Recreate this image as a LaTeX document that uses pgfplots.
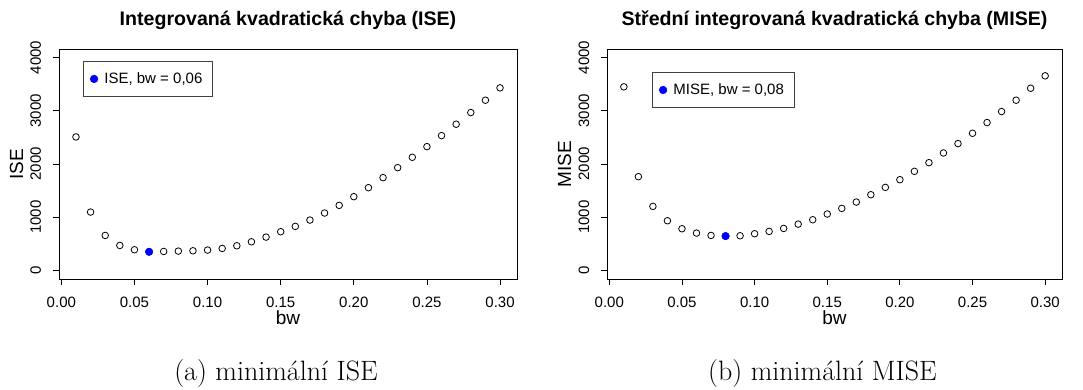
\documentclass[border=0pt]{standalone}
\usepackage{fontspec}
\usepackage{pgfplots}
\pgfplotsset{compat=1.18}
\newfontfamily\arial{Liberation Sans}

\pgfplotstableread{
bw ise
0.01 2508
0.02 1097
0.03 658
0.04 470
0.05 389
0.06 351
0.07 357
0.08 364
0.09 370
0.10 383
0.11 414
0.12 464
0.13 539
0.14 627
0.15 728
0.16 828
0.17 947
0.18 1079
0.19 1223
0.20 1386
0.21 1555
0.22 1744
0.23 1931
0.24 2126
0.25 2326
0.26 2533
0.27 2747
0.28 2966
0.29 3198
0.30 3430
}\isedata

\pgfplotstableread{
bw mise
0.01 3449
0.02 1762
0.03 1204
0.04 934
0.05 784
0.06 702
0.07 658
0.08 646
0.09 652
0.10 690
0.11 734
0.12 790
0.13 871
0.14 953
0.15 1060
0.16 1166
0.17 1285
0.18 1423
0.19 1561
0.20 1705
0.21 1862
0.22 2025
0.23 2207
0.24 2383
0.25 2577
0.26 2778
0.27 2985
0.28 3198
0.29 3423
0.30 3656
}\misedata

\pgfplotsset{
  rstyle/.style={
    scale only axis,
    height=230pt,
    xmin=-0.0016, xmax=0.3116, ymin=-160, ymax=4160,
    axis line style={line width=0.8pt},
    tick style={black, line width=0.8pt},
    tick align=outside,
    major tick length=6pt,
    xtick pos=bottom, ytick pos=left,
    xtick={0,0.05,0.10,0.15,0.20,0.25,0.30},
    xticklabels={0.00,0.05,0.10,0.15,0.20,0.25,0.30},
    ytick={0,1000,2000,3000,4000},
    yticklabels={0,1000,2000,3000,4000},
    tick label style={font=\arial\fontsize{15}{18}\selectfont},
    xticklabel style={anchor=base, yshift=-23pt},
    yticklabel style={xshift=-12pt, rotate=90, anchor=base},
    label style={font=\arial\fontsize{19}{22}\selectfont},
    xlabel style={at={(axis description cs:0.5,0)}, anchor=base, yshift=-46pt},
    title style={font=\arial\bfseries\fontsize{19.6}{23}\selectfont, at={(axis description cs:0.5,1)}, anchor=base, yshift=17pt},
    legend cell align=left,
    legend style={anchor=north west, draw=black!75, line width=0.6pt, fill=white,
      font=\arial\fontsize{15}{18}\selectfont, inner xsep=7pt, inner ysep=8.5pt,
      column sep=3.5pt, nodes={inner sep=3pt}},
  },
  rpts/.style={only marks, mark=o, mark size=3.3pt, black, line width=0.8pt},
  rmin/.style={only marks, mark=*, mark size=3.8pt, color={rgb,255:red,0;green,0;blue,255}},
}

\begin{document}
\begin{tikzpicture}
\path[use as bounding box] (0,0) rectangle (1083pt,390pt);

\begin{axis}[rstyle,
  at={(59pt,111pt)}, anchor=south west, width=458pt,
  title={Integrovaná kvadratická chyba (ISE)},
  xlabel={bw}, ylabel={ISE},
  ylabel style={at={([xshift=-36pt]axis description cs:0,0.5)}, anchor=base},
  legend style={at={(axis description cs:0.0524,0.948)}},
]
\addplot[rpts, forget plot] table[x=bw, y=ise] {\isedata};
\addplot[rmin] coordinates {(0.06,351)};
\addlegendentry{ISE, bw = 0,06}
\end{axis}

\begin{axis}[rstyle,
  at={(607pt,111pt)}, anchor=south west, width=455pt,
  title={Střední integrovaná kvadratická chyba (MISE)},
  xlabel={bw}, ylabel={MISE},
  ylabel style={at={([xshift=-36pt]axis description cs:0,0.5)}, anchor=base},
  legend style={at={(axis description cs:0.0989,0.90)}},
]
\addplot[rpts, forget plot] table[x=bw, y=mise] {\misedata};
\addplot[rmin] coordinates {(0.08,646)};
\addlegendentry{MISE, bw = 0,08}
\end{axis}

\node[anchor=base, font=\fontsize{28}{34}\selectfont] at (276pt,9pt) {(a) minimální ISE};
\node[anchor=base, font=\fontsize{28}{34}\selectfont] at (822.5pt,9pt) {(b) minimální MISE};
\end{tikzpicture}
\end{document}
